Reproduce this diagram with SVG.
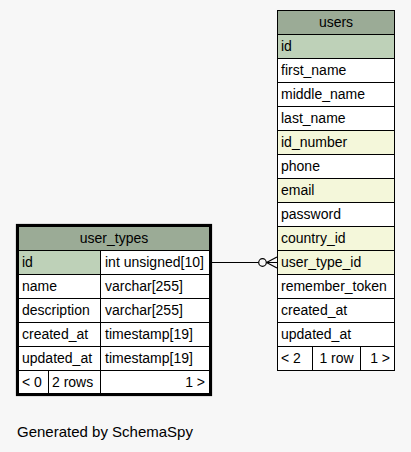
<svg xmlns="http://www.w3.org/2000/svg" width="411" height="452" viewBox="0 0 411 452">
<style>
text{font-family:"Liberation Sans",Arial,Helvetica,sans-serif;font-size:14px;fill:#000}
.c{stroke:#000;stroke-width:1;fill:#fff}
.h{fill:#9bab96}
.pk{fill:#bed1b8}
.ix{fill:#f4f7da}
.m{text-anchor:middle}
.r{text-anchor:end}
.conn{stroke:#000;stroke-width:1.2;fill:none}
</style>
<rect x="0" y="0" width="411" height="452" fill="#f7f7f7"/>
<g id="users">
<rect class="c h" x="277.5" y="10.5" width="117" height="24"/>
<text class="m" x="336" y="27">users</text>
<rect class="c pk" x="277.5" y="34.5" width="117" height="24"/><text x="281" y="51">id</text>
<rect class="c" x="277.5" y="58.5" width="117" height="24"/><text x="281" y="75">first_name</text>
<rect class="c" x="277.5" y="82.5" width="117" height="24"/><text x="281" y="99">middle_name</text>
<rect class="c" x="277.5" y="106.5" width="117" height="24"/><text x="281" y="123">last_name</text>
<rect class="c ix" x="277.5" y="130.5" width="117" height="24"/><text x="281" y="147">id_number</text>
<rect class="c" x="277.5" y="154.5" width="117" height="24"/><text x="281" y="171">phone</text>
<rect class="c ix" x="277.5" y="178.5" width="117" height="24"/><text x="281" y="195">email</text>
<rect class="c" x="277.5" y="202.5" width="117" height="24"/><text x="281" y="219">password</text>
<rect class="c ix" x="277.5" y="226.5" width="117" height="24"/><text x="281" y="243">country_id</text>
<rect class="c ix" x="277.5" y="250.5" width="117" height="24"/><text x="281" y="267">user_type_id</text>
<rect class="c" x="277.5" y="274.5" width="117" height="24"/><text x="281" y="291">remember_token</text>
<rect class="c" x="277.5" y="298.5" width="117" height="24"/><text x="281" y="315">created_at</text>
<rect class="c" x="277.5" y="322.5" width="117" height="24"/><text x="281" y="339">updated_at</text>
<rect class="c" x="277.5" y="346.5" width="35" height="24"/><text x="281" y="363">&lt; 2</text>
<rect class="c" x="312.5" y="346.5" width="48" height="24"/><text class="m" x="336.5" y="363">1 row</text>
<rect class="c" x="360.5" y="346.5" width="34" height="24"/><text class="r" x="390" y="363">1 &gt;</text>
</g>
<g id="user_types">
<rect class="c h" x="18.5" y="226.5" width="191" height="24"/>
<text class="m" x="114" y="243">user_types</text>
<rect class="c pk" x="18.5" y="250.5" width="82" height="24"/><text x="22" y="267">id</text>
<rect class="c" x="100.5" y="250.5" width="109" height="24"/><text x="105" y="267">int unsigned[10]</text>
<rect class="c" x="18.5" y="274.5" width="82" height="24"/><text x="22" y="291">name</text>
<rect class="c" x="100.5" y="274.5" width="109" height="24"/><text x="105" y="291">varchar[255]</text>
<rect class="c" x="18.5" y="298.5" width="82" height="24"/><text x="22" y="315">description</text>
<rect class="c" x="100.5" y="298.5" width="109" height="24"/><text x="105" y="315">varchar[255]</text>
<rect class="c" x="18.5" y="322.5" width="82" height="24"/><text x="22" y="339">created_at</text>
<rect class="c" x="100.5" y="322.5" width="109" height="24"/><text x="105" y="339">timestamp[19]</text>
<rect class="c" x="18.5" y="346.5" width="82" height="24"/><text x="22" y="363">updated_at</text>
<rect class="c" x="100.5" y="346.5" width="109" height="24"/><text x="105" y="363">timestamp[19]</text>
<rect class="c" x="18.5" y="370.5" width="30" height="23"/><text x="22" y="387">&lt; 0</text>
<rect class="c" x="48.5" y="370.5" width="52" height="23"/><text x="52" y="387">2 rows</text>
<rect class="c" x="100.5" y="370.5" width="109" height="23"/><text class="r" x="205" y="387">1 &gt;</text>
<rect x="17.2" y="225.2" width="193.6" height="169.6" fill="none" stroke="#000" stroke-width="2.6"/>
</g>
<g id="connectors">
<path class="conn" d="M211 262.5 H258.5"/>
<circle class="conn" cx="262.5" cy="262.5" r="3.8"/>
<path class="conn" d="M266.5 262.5 L277 257 M266.5 262.5 L277 268 M266.5 262.5 H277" stroke-width="1.6"/>
</g>
<text x="17" y="437" style="font-size:15px">Generated by SchemaSpy</text>
</svg>
